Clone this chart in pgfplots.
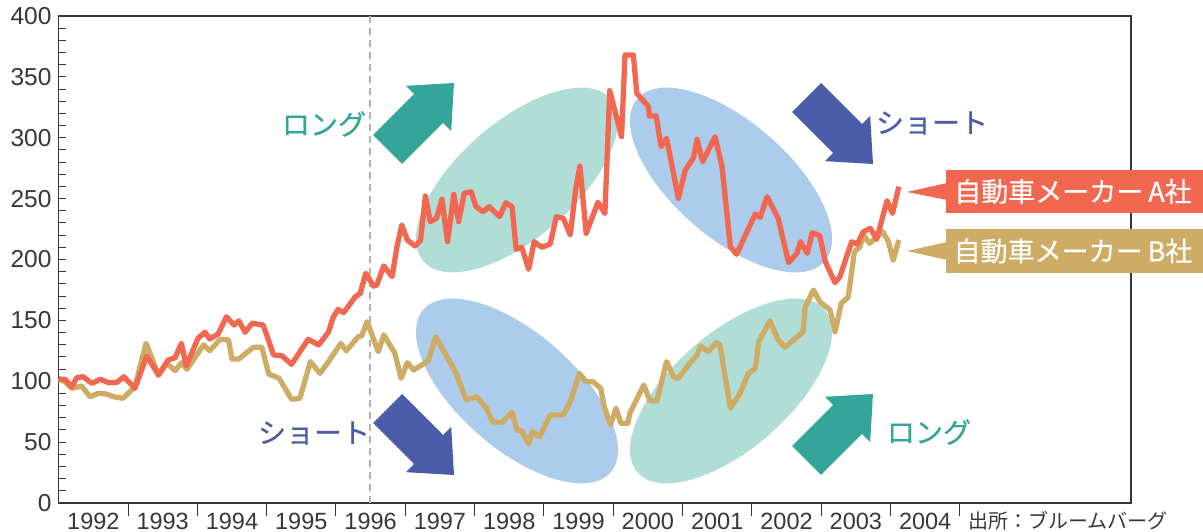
\documentclass[border=0pt]{standalone}
\usepackage{pgfplots}
\pgfplotsset{compat=1.18}
\usepackage{fontspec}
\setmainfont{Liberation Sans}
\newfontfamily\jp[FakeBold=0.5]{Noto Sans CJK JP}
\newfontfamily\jpr{Noto Sans CJK JP}
\definecolor{lineA}{RGB}{242,103,80}
\definecolor{lineB}{RGB}{207,172,102}
\definecolor{arrG}{RGB}{51,166,153}
\definecolor{arrB}{RGB}{74,91,168}
\definecolor{ellG}{RGB}{176,222,215}
\definecolor{ellB}{RGB}{171,205,235}
\definecolor{axgray}{RGB}{55,55,55}
\newcommand\blockarrow[4]{%
  \fill[#4, shift={(#1,#2)}, rotate=#3] (0,0) -- (-36,32) -- (-36,20.5) -- (-94,20.5) -- (-94,-20.5) -- (-36,-20.5) -- (-36,-32) -- cycle;}
\begin{document}
\begin{tikzpicture}[x=1pt,y=1pt]
\useasboundingbox (0,0) rectangle (1203,532);
% background ellipses
\fill[ellG, rotate around={41:(517,352)}] (517,352) ellipse [x radius=124, y radius=58];
\fill[ellB, rotate around={-41:(731,352)}] (731,352) ellipse [x radius=124, y radius=58];
\fill[ellB, rotate around={-41:(517,141)}] (517,141) ellipse [x radius=124, y radius=58];
\fill[ellG, rotate around={41:(731,141)}] (731,141) ellipse [x radius=124, y radius=58];
\begin{axis}[
  at={(58.7pt,29pt)}, anchor=south west,
  scale only axis, width=1072.3pt, height=487pt,
  xmin=1992, xmax=2007.47, ymin=0, ymax=400,
  axis line style={axgray, line width=1.3pt},
  clip=false,
  ytick={0,50,...,400},
  minor y tick num=4,
  ytick pos=left, xtick pos=bottom,
  tick align=inside,
  major tick length=7pt, minor tick length=7pt,
  y tick style={axgray, line width=1pt},
  minor y tick style={axgray, line width=1pt},
  xtick={1992.5,1993.5,1994.5,1995.5,1996.5,1997.5,1998.5,1999.5,2000.5,2001.5,2002.5,2003.5,2004.5},
  xticklabels={1992,1993,1994,1995,1996,1997,1998,1999,2000,2001,2002,2003,2004},
  x tick style={draw=none},
  /pgf/number format/assume math mode=true,
  yticklabel style={font=\fontsize{24.5}{24.5}\selectfont, text=axgray, anchor=east, inner sep=0pt, xshift=-7pt},
  xticklabel style={font=\fontsize{23.5}{23.5}\selectfont, text=axgray, anchor=base, inner sep=0pt, yshift=-26.5pt},
]
\draw[black!30, dash pattern=on 7pt off 5pt, line width=2.4pt] (axis cs:1996.49,0) -- (axis cs:1996.49,400);
\pgfplotsinvokeforeach{1993,1994,1995,1996,1997,1998,1999,2000,2001,2002,2003,2004,2005}{
  \draw[axgray, line width=1pt] (axis cs:#1,0) -- ++(0pt,-13pt);
}
\addplot[lineB, line width=5.3pt, line join=round] coordinates {
(1992.00,101.8) (1992.09,99.6) (1992.19,94.2) (1992.33,96.1) (1992.45,87.3) (1992.57,90.1) (1992.69,89.5) (1992.79,87.3) (1992.93,86.0) (1993.10,95.5) (1993.26,131.2) (1993.44,105.1) (1993.56,114.7) (1993.68,108.7) (1993.77,115.2) (1993.85,109.8) (1994.09,129.8) (1994.18,125.1) (1994.33,134.5) (1994.45,133.9) (1994.50,118.3) (1994.60,118.3) (1994.81,127.9) (1994.93,127.9) (1995.03,106.0) (1995.18,102.4) (1995.36,85.2) (1995.48,86.0) (1995.63,116.1) (1995.77,106.5) (1995.91,117.5) (1996.07,131.0) (1996.15,125.0) (1996.32,136.6) (1996.37,137.2) (1996.45,148.9) (1996.61,124.3) (1996.69,138.0) (1996.85,123.0) (1996.94,102.4) (1997.03,115.2) (1997.12,109.2) (1997.33,116.6) (1997.44,136.6) (1997.73,107.0) (1997.88,84.6) (1998.03,87.3) (1998.17,77.8) (1998.26,66.8) (1998.39,66.0) (1998.54,74.5) (1998.61,60.0) (1998.68,59.4) (1998.78,48.5) (1998.83,58.6) (1998.94,54.5) (1999.09,72.3) (1999.28,72.3) (1999.40,86.0) (1999.51,106.5) (1999.61,99.6) (1999.71,99.6) (1999.82,94.2) (1999.87,79.1) (1999.96,64.1) (2000.04,77.8) (2000.11,65.5) (2000.21,65.5) (2000.24,73.7) (2000.44,96.9) (2000.53,84.0) (2000.63,84.0) (2000.77,116.1) (2000.87,103.7) (2000.94,102.4) (2001.11,115.2) (2001.21,121.6) (2001.26,129.0) (2001.37,124.3) (2001.49,131.7) (2001.54,129.8) (2001.69,77.8) (2001.83,90.1) (2001.95,106.5) (2002.05,110.6) (2002.10,132.5) (2002.26,149.7) (2002.38,133.9) (2002.48,127.9) (2002.74,140.7) (2002.77,161.2) (2002.89,174.9) (2002.98,165.3) (2003.13,158.5) (2003.20,140.7) (2003.29,164.0) (2003.39,169.0) (2003.48,206.4) (2003.56,210.5) (2003.61,220.1) (2003.70,213.3) (2003.89,222.8) (2003.97,214.6) (2004.04,199.3) (2004.12,216.0)
};
\addplot[lineA, line width=5.3pt, line join=round] coordinates {
(1992.00,101.8) (1992.09,101.6) (1992.19,95.5) (1992.26,102.9) (1992.35,103.7) (1992.48,98.3) (1992.60,101.6) (1992.72,98.8) (1992.84,99.1) (1992.94,103.7) (1993.10,94.2) (1993.27,120.7) (1993.44,105.1) (1993.58,117.5) (1993.68,119.3) (1993.77,131.2) (1993.84,112.5) (1994.01,135.3) (1994.11,140.2) (1994.18,134.7) (1994.30,138.8) (1994.42,153.0) (1994.53,146.2) (1994.60,149.5) (1994.69,140.2) (1994.79,147.6) (1994.95,146.2) (1995.10,121.6) (1995.22,121.0) (1995.36,113.9) (1995.60,134.5) (1995.75,129.8) (1995.89,140.2) (1995.96,152.5) (1996.03,159.1) (1996.11,156.3) (1996.28,169.4) (1996.35,172.2) (1996.43,188.7) (1996.54,178.2) (1996.59,179.1) (1996.69,194.7) (1996.81,185.9) (1996.88,210.5) (1996.95,228.3) (1997.03,216.0) (1997.14,211.1) (1997.22,215.4) (1997.29,252.2) (1997.36,231.1) (1997.45,233.8) (1997.53,249.4) (1997.61,214.6) (1997.70,253.5) (1997.77,231.1) (1997.85,254.4) (1997.95,255.7) (1998.02,243.4) (1998.12,239.3) (1998.21,243.4) (1998.36,235.2) (1998.45,246.6) (1998.54,243.4) (1998.60,208.4) (1998.68,210.0) (1998.78,192.0) (1998.86,214.6) (1998.97,210.0) (1999.09,212.7) (1999.18,235.2) (1999.28,233.8) (1999.38,220.1) (1999.46,258.5) (1999.52,276.8) (1999.61,221.5) (1999.78,247.0) (1999.88,237.9) (1999.95,338.6) (2000.12,300.9) (2000.17,368.0) (2000.29,368.0) (2000.34,336.5) (2000.51,325.5) (2000.52,317.9) (2000.62,317.9) (2000.69,292.7) (2000.77,299.5) (2000.94,250.3) (2001.04,273.5) (2001.16,283.9) (2001.21,298.7) (2001.29,280.3) (2001.47,300.9) (2001.57,276.2) (2001.69,210.5) (2001.78,204.3) (2002.05,237.4) (2002.12,234.7) (2002.22,251.6) (2002.38,233.8) (2002.53,197.4) (2002.65,205.1) (2002.70,214.6) (2002.80,205.1) (2002.87,222.0) (2002.98,219.6) (2003.06,198.2) (2003.20,181.0) (2003.27,185.9) (2003.44,214.6) (2003.52,212.7) (2003.61,222.8) (2003.71,225.6) (2003.80,216.6) (2003.95,248.3) (2004.03,237.9) (2004.12,259.8)
};
\end{axis}
% arrows
\blockarrow{454}{449}{45}{arrG}
\blockarrow{873}{368}{-45}{arrB}
\blockarrow{454}{57}{-45}{arrB}
\blockarrow{873}{138}{45}{arrG}
% annotation texts
\node[text=arrG, font=\jp\fontsize{28}{28}\selectfont, inner sep=0pt] at (324,408) {ロング};
\node[text=arrB, font=\jp\fontsize{28}{28}\selectfont, inner sep=0pt] at (932,409) {ショート};
\node[text=arrB, font=\jp\fontsize{28}{28}\selectfont, inner sep=0pt] at (314,99) {ショート};
\node[text=arrG, font=\jp\fontsize{28}{28}\selectfont, inner sep=0pt] at (929,100) {ロング};
% series labels
\fill[lineA] (946,319) rectangle (1203,362);
\fill[lineA] (907,340) -- (947,349) -- (947,332) -- cycle;
\node[text=white, font=\jp\fontsize{27}{27}\selectfont, inner sep=0pt] at (1073,340.5) {自動車メーカー\hspace{5pt}A社};
\fill[lineB] (946,259) rectangle (1203,303);
\fill[lineB] (907,281) -- (947,290) -- (947,272) -- cycle;
\node[text=white, font=\jp\fontsize{27}{27}\selectfont, inner sep=0pt] at (1073,281) {自動車メーカー\hspace{5pt}B社};
% source
\node[anchor=base west, text=axgray, font=\jpr\fontsize{20}{20}\selectfont, inner sep=0pt] at (968,3.5) {出所：ブルームバーグ};
\end{tikzpicture}
\end{document}
